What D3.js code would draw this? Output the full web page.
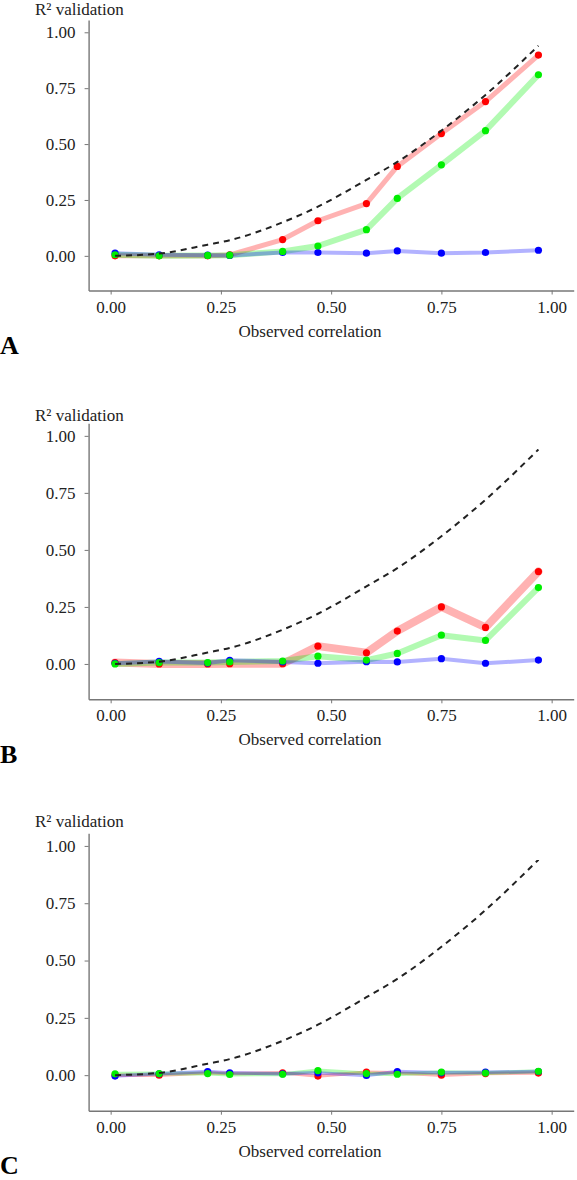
<!DOCTYPE html>
<html>
<meta charset="utf-8">
<style>
    body {
        margin: 0;
        background: #fff;
    }

    svg text {
        font-family: 'Liberation Serif', 'Times New Roman', 'DejaVu Serif', serif !important;
    }
</style>

<body>
    <svg id="chart" width="577" height="1180"></svg>
    <script src="https://cdn.jsdelivr.net/npm/d3@7"></script>
    <script>

        // observed correlation (x) shared by every panel
        const observed = [0.01, 0.11, 0.22, 0.27, 0.39, 0.47, 0.58, 0.65, 0.75, 0.85, 0.97];
        // dashed reference curve
        const expected = [0.00, 0.01, 0.05, 0.07, 0.15, 0.22, 0.34, 0.42, 0.56, 0.72, 0.94];
        const tickValues = [0, 0.25, 0.5, 0.75, 1];

        // panel A
        const aRed = [0.000, 0.000, 0.000, 0.004, 0.073, 0.157, 0.234, 0.400, 0.547, 0.690, 0.898];
        const aGreen = [0.005, 0.000, 0.002, 0.003, 0.020, 0.044, 0.117, 0.257, 0.407, 0.560, 0.810];
        const aBlue = [0.012, 0.005, 0.003, 0.002, 0.015, 0.015, 0.012, 0.022, 0.012, 0.015, 0.025];

        // panel B
        const bRed = [0.006, 0.000, 0.000, 0.001, 0.001, 0.078, 0.049, 0.144, 0.250, 0.160, 0.405];
        const bGreen = [0.000, 0.006, 0.006, 0.009, 0.013, 0.034, 0.017, 0.046, 0.126, 0.103, 0.335];
        const bBlue = [0.003, 0.011, 0.004, 0.016, 0.009, 0.003, 0.010, 0.009, 0.023, 0.003, 0.017];

        // panel C
        const cRed = [0.000, 0.000, 0.010, 0.007, 0.010, -0.004, 0.013, 0.010, 0.000, 0.007, 0.009];
        const cGreen = [0.006, 0.007, 0.007, 0.003, 0.004, 0.020, 0.007, 0.004, 0.013, 0.009, 0.017];
        const cBlue = [-0.004, 0.006, 0.016, 0.010, 0.006, 0.010, -0.001, 0.016, 0.010, 0.013, 0.016];

        const colors = { red: "#ff0000", green: "#00ee00", blue: "#0000ff" }
        const serif = "'Liberation Serif', 'Times New Roman', 'DejaVu Serif', serif"

        const panels = [
            { letter: "A", top: 20, bottom: 290.5, titleY: 15, series: { red: aRed, green: aGreen, blue: aBlue }, band: { red: 5, green: 6, blue: 4 } },
            { letter: "B", top: 423.3, bottom: 699.3, titleY: 421, series: { red: bRed, green: bGreen, blue: bBlue }, band: { red: 8, green: 6, blue: 4 } },
            { letter: "C", top: 833.3, bottom: 1110.7, titleY: 827, series: { red: cRed, green: cGreen, blue: cBlue }, band: { red: 3.5, green: 4, blue: 3.5 } }
        ]

        const chart = d3.select("#chart")

        const x = d3.scaleLinear()
            .domain([-0.05, 1.05])
            .range([88.6, 573.7])

        panels.forEach(p => {

            const g = chart.append("g")
                .attr("font-family", serif)

            const y = d3.scaleLinear()
                .domain([-0.155, 1.055])
                .range([p.bottom, p.top])

            const xAxis = g.append("g")
                .attr("transform", "translate(0," + p.bottom + ")")
                .call(d3.axisBottom(x).tickValues(tickValues).tickFormat(d3.format(".2f")).tickSize(4).tickSizeOuter(0).tickPadding(6))

            const yAxis = g.append("g")
                .attr("transform", "translate(" + x.range()[0] + ",0)")
                .call(d3.axisLeft(y).tickValues(tickValues).tickFormat(d3.format(".2f")).tickSize(4).tickSizeOuter(0).tickPadding(9))

            xAxis.attr("font-family", serif).attr("font-size", 17)
            yAxis.attr("font-family", serif).attr("font-size", 17)

            g.selectAll(".domain").attr("stroke", "#777").attr("stroke-width", 1.4)
            g.selectAll(".tick line").attr("stroke", "#777").attr("stroke-width", 1)
            g.selectAll(".tick text")
                .attr("fill", "#222")

            const line = d3.line()
                .x((d, i) => x(observed[i]))
                .y(d => y(d))

            // translucent bands
            ;["red", "green", "blue"].forEach(k => {
                g.append("path")
                    .datum(p.series[k])
                    .attr("d", line)
                    .attr("fill", "none")
                    .attr("stroke", colors[k])
                    .attr("stroke-opacity", 0.3)
                    .attr("stroke-width", p.band[k])
                    .attr("stroke-linejoin", "round")
                    .attr("stroke-linecap", "round")
            })

            // points
            ;["red", "blue", "green"].forEach(k => {
                g.append("g")
                    .selectAll("circle")
                    .data(p.series[k])
                    .enter()
                    .append("circle")
                    .attr("cx", (d, i) => x(observed[i]))
                    .attr("cy", d => y(d))
                    .attr("r", 3.6)
                    .attr("fill", colors[k])
            })

            // dashed reference
            g.append("path")
                .datum(expected)
                .attr("d", d3.line().x((d, i) => x(observed[i])).y(d => y(d)).curve(d3.curveMonotoneX))
                .attr("fill", "none")
                .attr("stroke", "#222")
                .attr("stroke-width", 2)
                .attr("stroke-dasharray", "6,5")

            g.append("text")
                .attr("x", 35)
                .attr("y", p.titleY)
                .attr("fill", "#222")
                .attr("font-size", 17)
                .text("R² validation")

            g.append("text")
                .attr("x", 310)
                .attr("y", p.bottom + 46)
                .attr("text-anchor", "middle")
                .attr("fill", "#222")
                .attr("font-size", 17)
                .text("Observed correlation")

            g.append("text")
                .attr("x", 0)
                .attr("y", p.bottom + 63.5)
                .attr("fill", "#000")
                .attr("font-size", 26)
                .attr("font-weight", "bold")
                .text(p.letter)
        })

    </script>
</body>

</html>
